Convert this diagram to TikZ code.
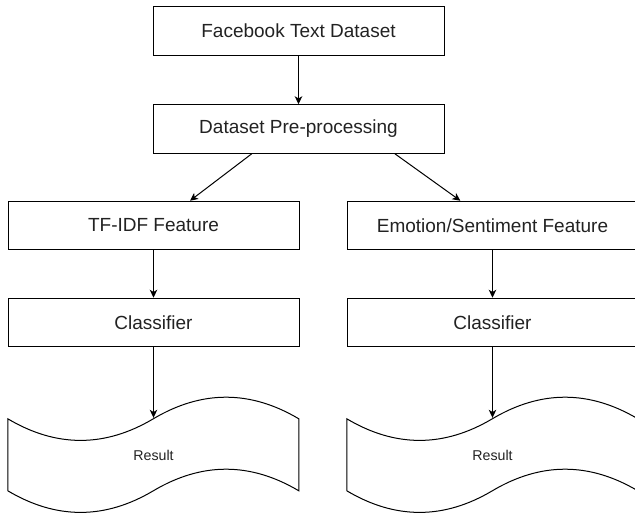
\documentclass[tikz,border=0pt]{standalone}
\usepackage{fontspec}
\setmainfont{Liberation Sans}
\usetikzlibrary{arrows.meta,calc}
\definecolor{txt}{HTML}{222222}
\tikzset{
  box/.style={draw=black, line width=1pt, minimum width=291pt, minimum height=48.5pt,
              inner sep=0pt, font=\fontsize{19}{22}\selectfont, text=txt},
  tapebox/.style={draw=none, minimum width=291pt, minimum height=120pt, inner sep=0pt,
              font=\fontsize{14.2}{16}\selectfont, text=txt},
  tapeline/.style={draw=black, line width=1pt},
  conn/.style={draw=black, line width=1pt, -{Stealth[length=8pt,width=7.5pt,inset=2.2pt]}}
}
\begin{document}
\begin{tikzpicture}[x=1pt,y=-1pt]
\useasboundingbox (0,0) rectangle (635,514);
\node[box] (fb) at (298.5,31) {Facebook Text Dataset};
\node[box] (pre) at (298.5,129) {Dataset Pre-processing};
\node[box] (tfidf) at (153.5,225.5) {TF-IDF Feature};
\node[box] (emo) at (492.5,225.5) {Emotion/Sentiment Feature};
\node[box] (cl1) at (153.5,322.5) {Classifier};
\node[box] (cl2) at (492.5,322.5) {Classifier};
\node[tapebox] (res1) at (153.5,455) {Result};
\node[tapebox] (res2) at (492.5,455) {Result};
% tape outlines
\foreach \r in {res1,res2}{
  \draw[tapeline, shift={(\r.north west)}]
    (0,24) .. controls (48.5,52.8) and (97,52.8) .. (145.5,24)
    .. controls (194,-4.8) and (242.5,-4.8) .. (291,24)
    -- (291,96)
    .. controls (242.5,67.2) and (194,67.2) .. (145.5,96)
    .. controls (97,124.8) and (48.5,124.8) .. (0,96) -- cycle;
}
\coordinate (t1) at ($(res1.north)+(0,23)$);
\coordinate (t2) at ($(res2.north)+(0,23)$);
\coordinate (p1) at ($(pre.south west)!0.34!(pre.south east)$);
\coordinate (p2) at ($(pre.south west)!0.83!(pre.south east)$);
\coordinate (q1) at ($(tfidf.north west)!0.625!(tfidf.north east)$);
\coordinate (q2) at ($(emo.north west)!0.39!(emo.north east)$);
\draw[conn] (fb.south) -- (pre.north);
\draw[conn] (p1) -- (q1);
\draw[conn] (p2) -- (q2);
\draw[conn] (tfidf.south) -- (cl1.north);
\draw[conn] (emo.south) -- (cl2.north);
\draw[conn] (cl1.south) -- (t1);
\draw[conn] (cl2.south) -- (t2);
\end{tikzpicture}
\end{document}
